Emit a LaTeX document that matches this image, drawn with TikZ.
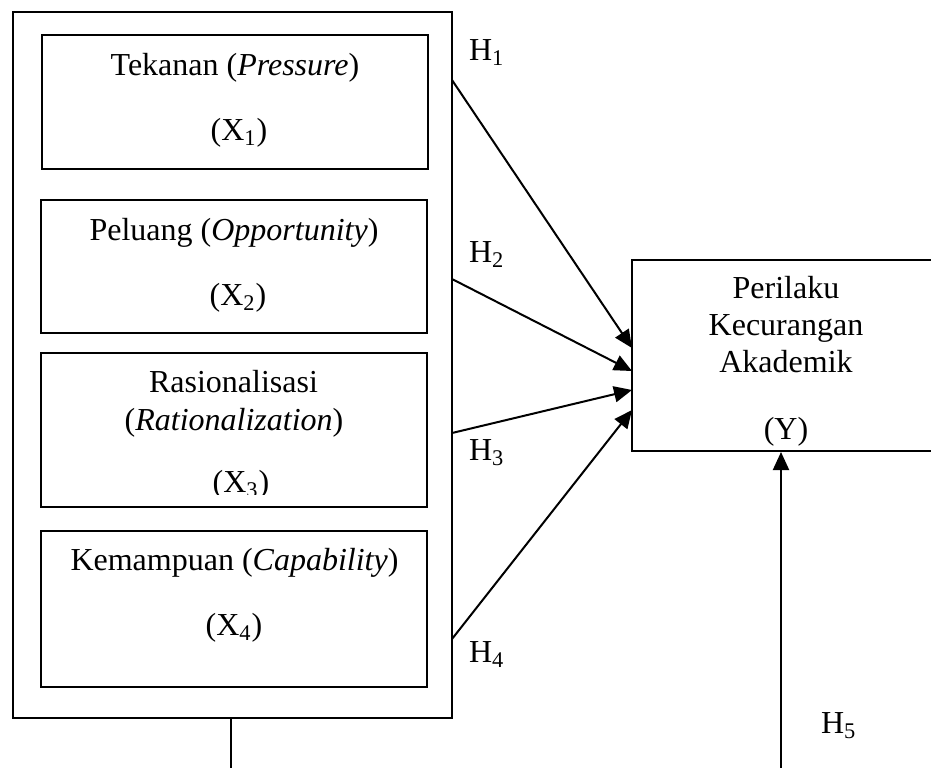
\documentclass[tikz,border=0pt]{standalone}
\usepackage{fontspec}
\setmainfont{Liberation Serif}
\usetikzlibrary{shapes,arrows.meta,positioning,calc}

\begin{document}
\begin{tikzpicture}[x=0.5pt, y=-0.5pt, line width=1pt]
  \tikzstyle{kotak}=[rectangle, draw=black, line width=1pt, minimum width=193pt, inner sep=0pt]
  \tikzstyle{teks}=[anchor=base, inner sep=0pt, font=\fontsize{16}{18.5}\selectfont]
  \tikzstyle{hipo}=[teks, anchor=base west]
  \tikzstyle{panah}=[-{Triangle[length=9pt,width=8pt]}, line width=1pt]

  \useasboundingbox (0,0) rectangle (931,767);

  % Variabel independen
  \node[kotak, minimum width=219.5pt, minimum height=353pt] (grp) at (232.5,365) {};
  \node[kotak, minimum height=67pt] (x1) at (235,102) {};
  \node[kotak, minimum height=66.5pt] (x2) at (234,266.5) {};
  \node[kotak, minimum height=77pt] (x3) at (234,430) {};
  \node[kotak, minimum height=78pt] (x4) at (234,609) {};

  \node[teks] (x1a) at (235,75) {Tekanan (\textit{Pressure})};
  \node[teks] (x1b) at (239,140) {(X\textsubscript{1})};
  \node[teks] (x2a) at (234,240) {Peluang (\textit{Opportunity})};
  \node[teks] (x2b) at (238,305) {(X\textsubscript{2})};
  \node[teks] (x3a) at (233.5,392) {Rasionalisasi};
  \node[teks] (x3b) at (234,430) {(\textit{Rationalization})};
  \begin{scope}
    \clip (0,340) rectangle (931,494);
    \node[teks] (x3c) at (241,492) {(X\textsubscript{3})};
  \end{scope}
  \node[teks] (x4a) at (234.5,570) {Kemampuan (\textit{Capability})};
  \node[teks] (x4b) at (234,635) {(X\textsubscript{4})};

  % Variabel dependen
  \node[kotak, minimum width=153pt, minimum height=95.5pt] (ybox) at (785,355.5) {};
  \node[teks] (ya) at (786,298) {Perilaku};
  \node[teks] (yb) at (786,335) {Kecurangan};
  \node[teks] (yc) at (786,372) {Akademik};
  \node[teks] (yd) at (786,439) {(Y)};

  % Hipotesis
  \node[hipo] (h1) at (468,60) {H\textsubscript{1}};
  \node[hipo] (h2) at (468,262) {H\textsubscript{2}};
  \node[hipo] (h3) at (468,460) {H\textsubscript{3}};
  \node[hipo] (h4) at (468,662) {H\textsubscript{4}};
  \node[hipo] (h5) at (820,733) {H\textsubscript{5}};

  \coordinate (s1) at (452,80);
  \coordinate (s2) at (452,279);
  \coordinate (s3) at (452,433);
  \coordinate (s4) at (452,639);
  \coordinate (e1) at (632,348);
  \coordinate (e2) at (632,371);
  \coordinate (e3) at (632,390);
  \coordinate (e4) at (632,410);
  \coordinate (gb) at (231,780);
  \coordinate (s5) at (781,780);

  \draw[panah] (s1) -- (e1);
  \draw[panah] (s2) -- (e2);
  \draw[panah] (s3) -- (e3);
  \draw[panah] (s4) -- (e4);
  \draw (gb |- grp.south) -- (gb);
  \draw[panah] (s5) -- (s5 |- ybox.south);
\end{tikzpicture}
\end{document}
